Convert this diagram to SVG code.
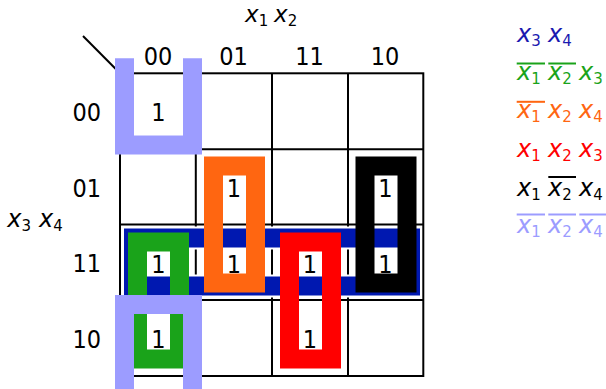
<svg xmlns="http://www.w3.org/2000/svg" width="606" height="389" viewBox="0 0 606 389">
<style>
.g{stroke:#000;stroke-width:2;fill:none}
.loop{fill:none;stroke-width:19}
.d{font-family:'DejaVu Sans Condensed','DejaVu Sans',sans-serif;font-size:25px;fill:#000;text-anchor:middle}
.v{font-family:'DejaVu Sans','Liberation Sans',sans-serif;font-size:24px;font-style:italic}
.t{font-size:23px}
.s{font-style:normal;font-size:15px}
.ol{stroke-width:2}
</style>
<defs>
<clipPath id="topclip"><rect x="0" y="58.3" width="606" height="200"/></clipPath>
</defs>
<rect width="606" height="389" fill="#fff"/>
<g id="grid">
<rect class="g" x="120" y="73.3" width="303.3" height="302.7"/>
<line class="g" x1="195.8" y1="73.3" x2="195.8" y2="376"/>
<line class="g" x1="272" y1="73.3" x2="272" y2="376"/>
<line class="g" x1="348" y1="73.3" x2="348" y2="376"/>
<line class="g" x1="120" y1="149.3" x2="423.3" y2="149.3"/>
<line class="g" x1="120" y1="224.5" x2="423.3" y2="224.5"/>
<line class="g" x1="120" y1="300" x2="423.3" y2="300"/>
</g>
<g id="connectors">
<line class="g" x1="83" y1="36" x2="120" y2="73.3"/>
</g>
<g id="loop-x3x4">
<rect x="133.5" y="238" width="277" height="48" fill="none" stroke="#fff" stroke-width="23"/>
<rect class="loop" x="133.5" y="238" width="277" height="48" stroke="#0018B0" stroke-width="18.3"/>
</g>
<g id="loop-nx1nx2x3">
<rect class="loop" x="137.5" y="242" width="42" height="117" stroke="#1AA31A"/>
</g>
<g id="loop-nx1x2x4">
<rect class="loop" x="213.5" y="166" width="42" height="117" stroke="#FF6611"/>
</g>
<g id="loop-x1x2x3">
<rect class="loop" x="289.5" y="242" width="42" height="117" stroke="#FF0000"/>
</g>
<g id="loop-x1nx2x4">
<rect class="loop" x="365" y="166" width="42" height="117" stroke="#000"/>
</g>
<g id="loop-nx1nx2nx4">
<rect class="loop" x="124.5" y="-60" width="68" height="205" stroke="#9C9CFF" clip-path="url(#topclip)"/>
<rect class="loop" x="124.5" y="304.5" width="68" height="200" stroke="#9C9CFF"/>
</g>
<g id="headers">
<text class="d" x="158" y="65">00</text>
<text class="d" x="233.5" y="65">01</text>
<text class="d" x="309.5" y="65">11</text>
<text class="d" x="385" y="65">10</text>
<text class="d" x="86.7" y="120.7">00</text>
<text class="d" x="86.7" y="196.5">01</text>
<text class="d" x="86.7" y="272.2">11</text>
<text class="d" x="86.7" y="348">10</text>
</g>
<g id="cells">
<text class="d" x="158.3" y="120.7">1</text>
<text class="d" x="234" y="196.7">1</text>
<text class="d" x="385.5" y="196.7">1</text>
<text class="d" x="158.3" y="273">1</text>
<text class="d" x="234" y="273">1</text>
<text class="d" x="310" y="273">1</text>
<text class="d" x="385.5" y="273">1</text>
<text class="d" x="158.3" y="347.5">1</text>
<text class="d" x="310" y="347.5">1</text>
</g>
<g id="axis-labels">
<text class="v t" x="245" y="21.5">x<tspan class="s" dy="4">1</tspan></text>
<text class="v t" x="274" y="21.5">x<tspan class="s" dy="4">2</tspan></text>
<text class="v" x="7.3" y="226.7">x<tspan class="s" dy="4">3</tspan></text>
<text class="v" x="39" y="226.7">x<tspan class="s" dy="4">4</tspan></text>
</g>
<g id="legend">
<g fill="#1A1AB0">
<text class="v" x="517" y="41.7">x<tspan class="s" dy="4">3</tspan></text>
<text class="v" x="548" y="41.7">x<tspan class="s" dy="4">4</tspan></text>
</g>
<g fill="#1AA31A">
<text class="v" x="517" y="80">x<tspan class="s" dy="4">1</tspan></text>
<text class="v" x="548" y="80">x<tspan class="s" dy="4">2</tspan></text>
<text class="v" x="579" y="80">x<tspan class="s" dy="4">3</tspan></text>
<line class="ol" stroke="#1AA31A" x1="516.7" y1="63.5" x2="545" y2="63.5"/>
<line class="ol" stroke="#1AA31A" x1="548.3" y1="63.5" x2="576" y2="63.5"/>
</g>
<g fill="#FF6611">
<text class="v" x="517" y="118.3">x<tspan class="s" dy="4">1</tspan></text>
<text class="v" x="548" y="118.3">x<tspan class="s" dy="4">2</tspan></text>
<text class="v" x="579" y="118.3">x<tspan class="s" dy="4">4</tspan></text>
<line class="ol" stroke="#FF6611" x1="516.7" y1="101.8" x2="545" y2="101.8"/>
</g>
<g fill="#FF0000">
<text class="v" x="517" y="156.7">x<tspan class="s" dy="4">1</tspan></text>
<text class="v" x="548" y="156.7">x<tspan class="s" dy="4">2</tspan></text>
<text class="v" x="579" y="156.7">x<tspan class="s" dy="4">3</tspan></text>
</g>
<g fill="#000">
<text class="v" x="517" y="195.5">x<tspan class="s" dy="4">1</tspan></text>
<text class="v" x="548" y="195.5">x<tspan class="s" dy="4">2</tspan></text>
<text class="v" x="579" y="195.5">x<tspan class="s" dy="4">4</tspan></text>
<line class="ol" stroke="#000" x1="548.3" y1="177" x2="576" y2="177"/>
</g>
<g fill="#9C9CFF">
<text class="v" x="517" y="232.5">x<tspan class="s" dy="4">1</tspan></text>
<text class="v" x="548" y="232.5">x<tspan class="s" dy="4">2</tspan></text>
<text class="v" x="579" y="232.5">x<tspan class="s" dy="4">4</tspan></text>
<line class="ol" stroke="#9C9CFF" x1="516.7" y1="214.5" x2="545" y2="214.5"/>
<line class="ol" stroke="#9C9CFF" x1="548.3" y1="214.5" x2="576" y2="214.5"/>
<line class="ol" stroke="#9C9CFF" x1="579.3" y1="214.5" x2="606" y2="214.5"/>
</g>
</g>
</svg>
